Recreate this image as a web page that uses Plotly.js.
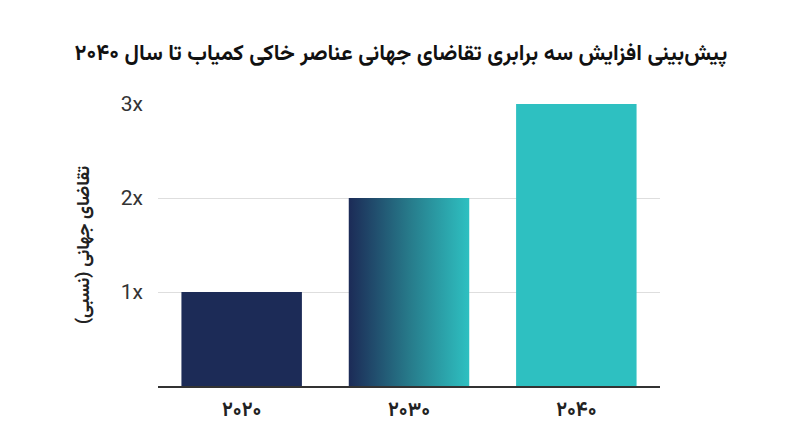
<!DOCTYPE html>
<html>
<head>
<meta charset="utf-8">
<script src="https://cdn.plot.ly/plotly-3.0.1.min.js"></script>
<style>
  html, body { margin: 0; padding: 0; background: #fff; }
  #chart { width: 800px; height: 447px; }
</style>
</head>
<body>
<div id="chart"></div>
<script>
// داده‌ها
const years = ['۲۰۲۰', '۲۰۳۰', '۲۰۴۰'];
const demand = [1, 2, 3];
const tickVals = [1, 2, 3];
const tickText = ['1x', '2x', '3x'];

const navy = '#1c2b57';
const teal = '#2ec0c1';

const persianFont = 'Vazirmatn, "DejaVu Sans", "Noto Sans", sans-serif';

const trace = {
    type: 'bar',
    x: years,
    y: demand,
    marker: { color: [navy, navy, teal] },
    hoverinfo: 'skip'
};

const layout = {
    width: 800,
    height: 447,
    margin: { l: 158, r: 140, t: 104, b: 61 },
    paper_bgcolor: '#fff',
    plot_bgcolor: '#fff',
    bargap: 0.28,
    showlegend: false,
    title: {
        text: '<b>پیش‌بینی افزایش سه برابری تقاضای جهانی عناصر خاکی کمیاب تا سال ۲۰۴۰</b>',
        font: { family: persianFont, size: 22, color: '#111' },
        x: 0.484, xref: 'paper', xanchor: 'center',
        y: 42, yref: 'container', yanchor: 'middle'
    },
    xaxis: {
        type: 'category',
        showgrid: false,
        showline: true,
        linecolor: '#333',
        linewidth: 1.5,
        ticks: '',
        ticklabelstandoff: 4,
        tickfont: { family: persianFont, size: 20, color: '#222', weight: 'bold' }
    },
    yaxis: {
        range: [0, 3],
        tickvals: tickVals,
        ticktext: tickText,
        showgrid: true,
        gridcolor: '#dedede',
        zeroline: false,
        showline: false,
        ticks: '',
        ticklabelstandoff: 14,
        tickfont: { family: 'Roboto, sans-serif', size: 21, color: '#333' },
        title: {
            text: '<b>تقاضای جهانی (نسبی)</b>',
            font: { family: persianFont, size: 18, color: '#222' },
            standoff: 26
        }
    }
};

Plotly.newPlot('chart', [trace], layout, { displayModeBar: false, staticPlot: true }).then(gd => {
    // گرادیان افقی برای میله ۲۰۳۰
    const svg = gd.querySelector('svg.main-svg');
    const ns = 'http://www.w3.org/2000/svg';
    let defs = svg.querySelector('defs');
    if (!defs) { defs = document.createElementNS(ns, 'defs'); svg.insertBefore(defs, svg.firstChild); }
    const grad = document.createElementNS(ns, 'linearGradient');
    grad.setAttribute('id', 'bar2030grad');
    grad.setAttribute('x1', '0'); grad.setAttribute('x2', '1');
    grad.setAttribute('y1', '0'); grad.setAttribute('y2', '0');
    [[0, navy], [0.5, '#277a8a'], [1, teal]].forEach(([o, c]) => {
        const s = document.createElementNS(ns, 'stop');
        s.setAttribute('offset', o);
        s.setAttribute('stop-color', c);
        grad.appendChild(s);
    });
    defs.appendChild(grad);
    const bars = gd.querySelectorAll('.barlayer .point path');
    if (bars[1]) bars[1].style.fill = 'url(#bar2030grad)';
});
</script>
</body>
</html>
